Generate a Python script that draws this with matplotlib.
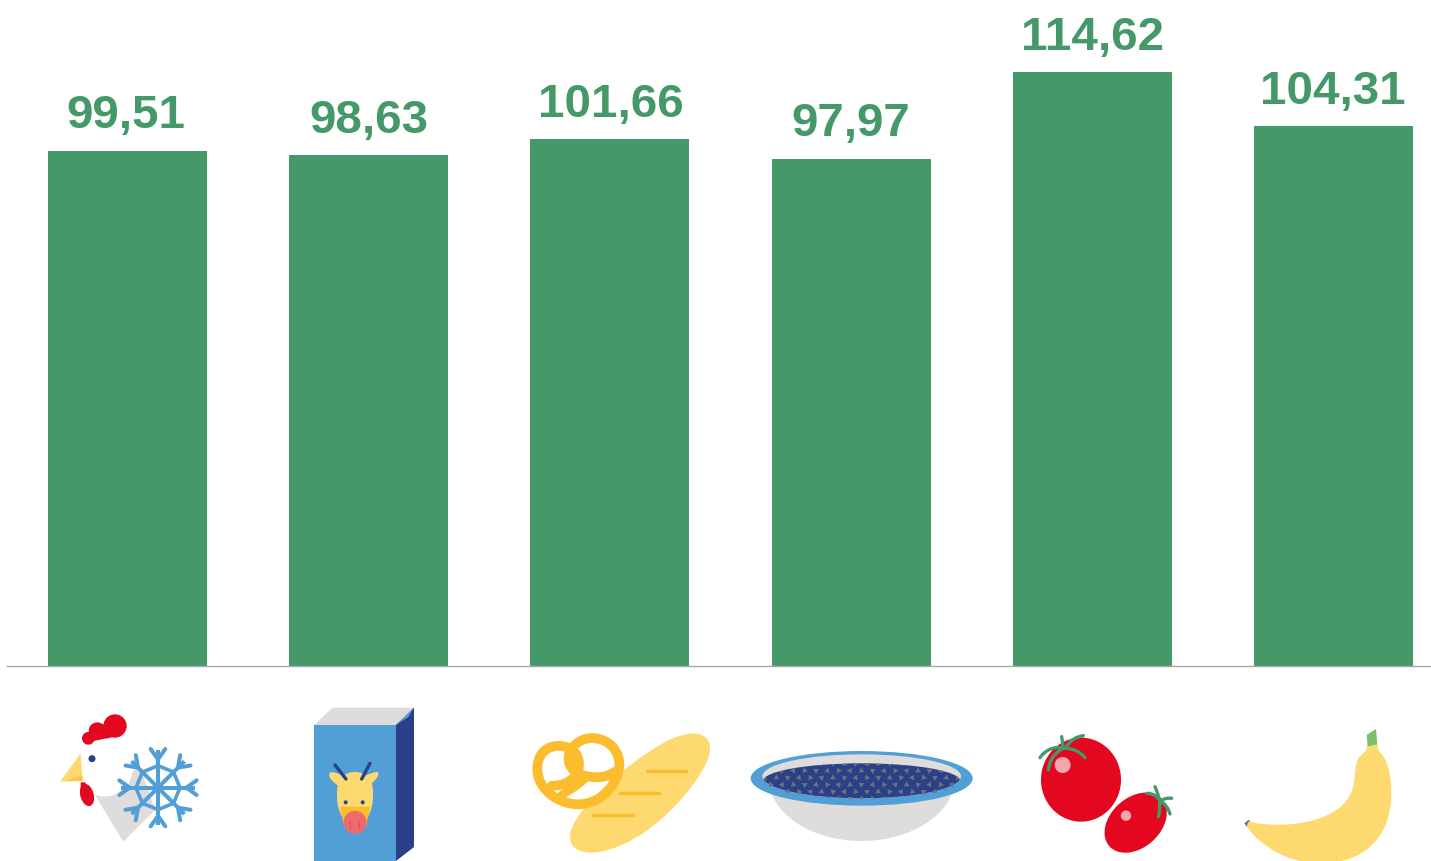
import numpy as np
import matplotlib
matplotlib.use("Agg")
import matplotlib.pyplot as plt
from matplotlib.patches import Polygon, Circle, Ellipse, PathPatch
from matplotlib.path import Path

values = [99.51, 98.63, 101.66, 97.97, 114.62, 104.31]
labels = ["99,51", "98,63", "101,66", "97,97", "114,62", "104,31"]
label_dx = [-1.5, 0, 0.5, 0, 0.5, -1]
GREEN = "#459968"; BLUE = "#529FD8"; NAVY = "#2A4088"; GREY = "#DEDDDC"
YEL = "#FDD96F"; ORG = "#FBBC2E"; RED = "#E3071F"

W, H = 1431, 861
fig = plt.figure(figsize=(W/100, H/100), dpi=100, facecolor="white")
base = 666.0
ax = fig.add_axes([7/W, 1-base/H, (W-7)/W, base/H])
ax.bar(range(6), values, width=0.659, color=GREEN)
ax.set_xlim(-0.4996, 5.404)
ax.set_ylim(0, base/5.18)
for s in ["top", "left", "right"]:
    ax.spines[s].set_visible(False)
ax.spines["bottom"].set_color("#A6A6A6")
ax.spines["bottom"].set_linewidth(1.0)
ax.set_xticks([]); ax.set_yticks([])
ax.patch.set_alpha(0)
for i, (v, t) in enumerate(zip(values, labels)):
    ax.annotate(t, (i, v), xytext=(label_dx[i]*0.72, 15.9), textcoords="offset points",
                ha="center", va="baseline", color=GREEN, fontsize=34.2,
                fontweight="bold", family="Liberation Sans")

# pictogram layer in pixel coordinates
ov = fig.add_axes([0, 0, 1, 1])
ov.set_xlim(0, W); ov.set_ylim(H, 0); ov.axis("off"); ov.patch.set_alpha(0)

def zmap(ox, oy):
    return lambda x, y: (ox + x/3, oy + y/3)

def curve(z, pts, closed=False, **kw):
    """pts: start point, then triples of bezier control points."""
    vs = [z(*p) for p in pts]
    codes = [Path.MOVETO] + [Path.CURVE4]*(len(vs)-1)
    if closed:
        vs.append(vs[0]); codes.append(Path.CLOSEPOLY)
    kw.setdefault("capstyle", "round")
    p = PathPatch(Path(vs, codes), **kw)
    ov.add_patch(p)
    return p

def poly(z, pts, **kw):
    p = Polygon([z(*q) for q in pts], closed=True, lw=0, **kw)
    ov.add_patch(p)
    return p

def line(z, pts, **kw):
    xs, ys = zip(*[z(*q) for q in pts])
    kw.setdefault("solid_capstyle", "round")
    ov.plot(xs, ys, **kw)

# --- chicken + snowflake
z1 = zmap(40, 695)
poly(z1, [(165, 300), (250, 440), (345, 345), (300, 215)], color=GREY)
ov.add_patch(Circle(z1(195, 222), 27.5, color="white", lw=0))
poly(z1, [(60, 260), (122, 175), (128, 258)], color=YEL)
poly(z1, [(75, 258), (128, 240), (128, 258)], color=ORG, alpha=0.6)
for (x, y, r) in [(225, 93, 35), (172, 108, 26), (145, 130, 19), (200, 108, 22)]:
    ov.add_patch(Circle(z1(x, y), r/3, color=RED, lw=0))
poly(z1, [(135, 143), (200, 100), (250, 110), (215, 127), (165, 137)], color=RED)
ov.add_patch(Ellipse(z1(141, 300), 40/3, 68/3, angle=-15, color=RED, lw=0))
poly(z1, [(122, 262), (135, 262), (150, 290), (122, 300)], color=RED)
ov.add_patch(Circle(z1(156, 191), 3.5, color=NAVY, lw=0))
cx, cy = 354, 278
for k in range(8):
    a = k*np.pi/4 + np.pi/2
    u = np.array([np.cos(a), np.sin(a)]); n = np.array([-u[1], u[0]])
    c = np.array([cx, cy])
    line(z1, [c, c + u*112], color=BLUE, lw=2.9, solid_capstyle="butt")
    for s in (1, -1):
        line(z1, [c + u*85, c + u*116 + n*s*22], color=BLUE, lw=2.9)
    b = k*np.pi/4 + np.pi/2 + np.pi/4
    v = np.array([np.cos(b), np.sin(b)])
    line(z1, [c + u*66, c + v*66], color=BLUE, lw=2.6)

# --- milk carton
poly(z1, [(822, 90), (878, 38), (1122, 38), (1068, 90)], color=GREY)
poly(z1, [(1068, 90), (1122, 38), (1122, 456), (1068, 498)], color=NAVY)
poly(z1, [(1068, 90), (1120, 40), (1105, 66)], color=BLUE)
poly(z1, [(822, 90), (1068, 90), (1068, 498), (822, 498)], color=BLUE)
line(z1, [(885, 210), (918, 252)], color=NAVY, lw=2.4)
line(z1, [(990, 205), (965, 252)], color=NAVY, lw=2.4)
curve(z1, [(895, 272), (860, 250), (862, 228), (880, 232), (900, 236), (915, 245), (925, 255)], closed=True, color=YEL, lw=0)
curve(z1, [(985, 272), (1020, 250), (1022, 224), (1005, 232), (985, 236), (970, 245), (960, 255)], closed=True, color=YEL, lw=0)
curve(z1, [(891, 300), (888, 250), (915, 231), (945, 231), (975, 231), (1002, 250), (999, 300),
           (999, 345), (985, 380), (945, 395), (905, 380), (891, 345), (891, 300)], closed=True, color=YEL, lw=0)
poly(z1, [(900, 335), (990, 335), (978, 395), (912, 395)], color=ORG)
ov.add_patch(Circle(z1(945, 382), 11.5, color="#EF6A6A", lw=0))
for x in (917, 968):
    ov.add_patch(Circle(z1(x, 322), 2.0, color=NAVY, lw=0))
for x in (930, 958):
    line(z1, [(x, 378), (x, 402)], color="#D65A60", lw=0.9)

# --- bread and pretzel
z2 = zmap(520, 715)
curve(z2, [(150, 365), (150, 290), (330, 140), (420, 90), (500, 40), (570, 45), (570, 100),
           (570, 170), (440, 320), (340, 372), (250, 425), (150, 430), (150, 365)], closed=True, color=YEL, lw=0)
for pts in ([(380, 167), (498, 167)], [(300, 233), (418, 233)], [(220, 301), (338, 301)]):
    line(z2, pts, color=ORG, lw=2.5)
curve(z2, [(95, 212), (150, 215), (195, 170), (170, 120), (150, 80), (50, 75), (52, 165),
           (55, 240), (150, 285), (210, 262), (270, 245), (300, 180), (298, 145),
           (295, 80), (220, 50), (175, 82), (125, 115), (140, 180), (210, 185),
           (240, 190), (265, 185), (285, 170)],
      fill=False, edgecolor=ORG, lw=7.0)
curve(z2, [(125, 240), (150, 225), (170, 215), (195, 190)], fill=False, edgecolor=ORG, lw=6.0)

# --- bowl with seeds
curve(z2, [(755, 235), (785, 320), (900, 378), (1025, 378), (1150, 378), (1265, 320), (1295, 235)],
      closed=True, color=GREY, lw=0)
ov.add_patch(Ellipse(z2(1025, 190), 666/3, 164/3, color=BLUE, lw=0))
rim = Ellipse(z2(1025, 184), 596/3, 132/3, color=GREY, lw=0)
ov.add_patch(rim)
food = Ellipse(z2(1025, 198), 592/3, 106/3, color=NAVY, lw=0)
ov.add_patch(food)
food.set_clip_path(rim)
for row, y in enumerate(range(146, 258, 21)):
    for col, x in enumerate(range(735, 1320, 34)):
        xx = x + (row % 2)*17
        t = np.radians(row*37 + col*73)
        tri = [(xx + 10*np.cos(t + j*2.094), y + 10*np.sin(t + j*2.094)) for j in range(3)]
        poly(z2, tri, color="#6E7176").set_clip_path(food)

# --- tomatoes
z3 = zmap(1020, 715)
ov.add_patch(Ellipse(z3(183, 194), 80, 84, color=RED, lw=0))
ov.add_patch(Circle(z3(128, 150), 8, color="#F4A6AD", lw=0))
for pts in ([(130, 100), (105, 92), (75, 105), (60, 128)],
            [(135, 100), (160, 100), (180, 110), (195, 128)],
            [(130, 100), (100, 115), (88, 140), (85, 165)],
            [(130, 100), (128, 90), (128, 80), (125, 65)],
            [(140, 95), (150, 75), (170, 65), (190, 62)]):
    curve(z3, pts, fill=False, edgecolor=GREEN, lw=2.4)
ov.add_patch(Ellipse(z3(347, 323), 212/3, 150/3, angle=-42, color=RED, lw=0))
ov.add_patch(Circle(z3(318, 302), 5.2, color="#F4A6AD", lw=0))
for pts in ([(420, 258), (415, 245), (412, 230), (405, 215)],
            [(420, 258), (435, 250), (445, 248), (455, 250)],
            [(420, 258), (435, 265), (445, 280), (450, 297)],
            [(420, 258), (418, 275), (420, 290), (415, 305)],
            [(420, 258), (410, 240), (395, 235), (380, 235)]):
    curve(z3, pts, fill=False, edgecolor=GREEN, lw=2.4)

# --- banana
poly(z3, [(1040, 60), (1068, 42), (1072, 90), (1043, 98)], color="#7DBE6A")
poly(z3, [(673, 325), (686, 314), (695, 327), (682, 337)], color="#6E7176")
curve(z3, [(685, 320), (800, 345), (950, 320), (990, 240), (1010, 200), (1000, 160), (1015, 130),
           (1030, 112), (1040, 110), (1042, 95), (1052, 92), (1062, 90), (1073, 88),
           (1073, 100), (1075, 105), (1078, 110), (1105, 130), (1118, 200), (1113, 260),
           (1105, 360), (1040, 445), (900, 445), (800, 445), (720, 390), (680, 335)],
      closed=True, color=YEL, lw=0)

fig.savefig("out.png", dpi=100)
